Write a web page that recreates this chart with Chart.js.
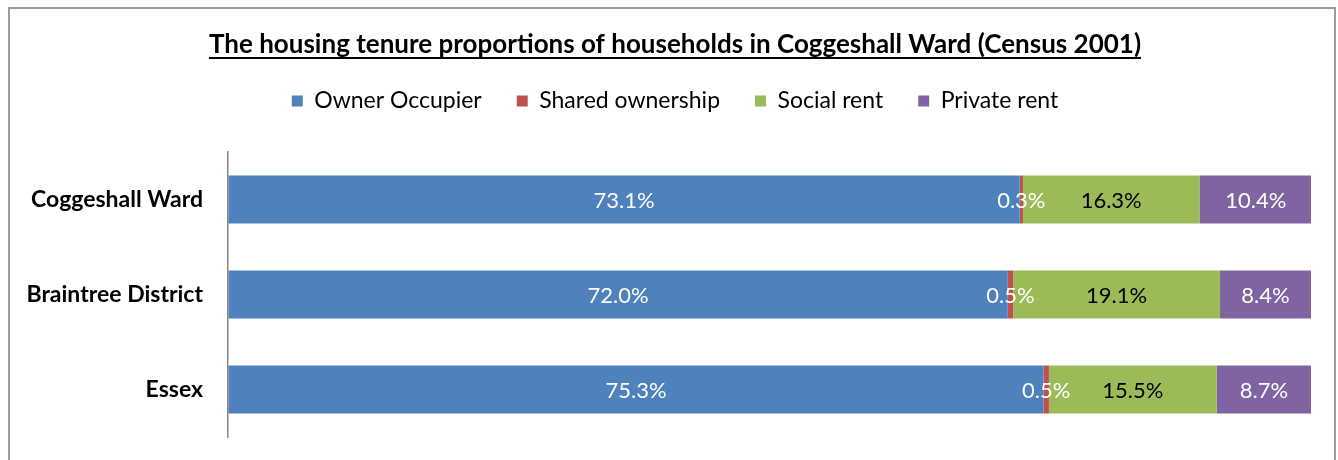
<!DOCTYPE html>
<html>
<head>
<meta charset="utf-8">
<script src="https://cdn.jsdelivr.net/npm/chart.js@4/dist/chart.umd.min.js"></script>
<style>
  html, body { margin: 0; padding: 0; background: #fff; }
  #wrap { position: relative; width: 1338px; height: 460px; overflow: hidden; }
  #frame { position: absolute; left: 8px; top: 7px; width: 1328px; height: 470px;
           border: 2px solid #9c9c9c; box-sizing: border-box; }
  canvas { position: absolute; left: 0; top: 0; }
</style>
</head>
<body>
<div id="wrap">
  <div id="frame"></div>
  <canvas id="tenureChart" width="1338" height="460"></canvas>
</div>
<script>
const areas = ["Coggeshall Ward", "Braintree District", "Essex"];

const ownerOccupier = [73.1, 72.0, 75.3];
const sharedOwnership = [0.3, 0.5, 0.5];
const socialRent = [16.3, 19.1, 15.5];
const privateRent = [10.4, 8.4, 8.7];

const FONT = "Lato, 'Open Sans', sans-serif";
const TITLE_SIZE = 26;

// percent labels in the middle of each segment
const barLabels = {
    id: "barLabels",
    afterDatasetsDraw(chart) {
        const ctx = chart.ctx;
        ctx.save();
        ctx.font = "22px " + FONT;
        ctx.textAlign = "center";
        ctx.textBaseline = "middle";
        chart.data.datasets.forEach((ds, i) => {
            const meta = chart.getDatasetMeta(i);
            if (meta.hidden) return;
            meta.data.forEach((bar, j) => {
                const p = bar.getProps(["x", "y", "base"], true);
                ctx.fillStyle = ds.labelColor;
                ctx.fillText(ds.data[j].toFixed(1) + "%", (p.x + p.base) / 2, p.y + 1);
            });
        });
        ctx.restore();
    }
};

// the title in the reference is underlined
const titleUnderline = {
    id: "titleUnderline",
    afterDraw(chart) {
        const t = chart.titleBlock;
        if (!t) return;
        const ctx = chart.ctx;
        ctx.save();
        ctx.font = "bold " + TITLE_SIZE + "px " + FONT;
        const w = ctx.measureText(chart.options.plugins.title.text).width;
        const cx = (t.left + t.right) / 2;
        const cy = t.top + t.options.padding.top + TITLE_SIZE * 1.2 / 2;
        ctx.strokeStyle = "#000";
        ctx.lineWidth = 2;
        ctx.beginPath();
        ctx.moveTo(cx - w / 2, cy + 13);
        ctx.lineTo(cx + w / 2, cy + 13);
        ctx.stroke();
        ctx.restore();
    }
};

// let the long category names run left of the axis box without being clipped
const wideLabels = {
    id: "wideLabels",
    afterLayout(chart) {
        chart.scales.y.left = 0;
    }
};

const ctx = document.getElementById("tenureChart").getContext("2d");

new Chart(ctx, {
    type: "bar",
    data: {
        labels: areas,
        datasets: [
            { label: "Owner Occupier", data: ownerOccupier, backgroundColor: "#4F81BD", labelColor: "#fff" },
            { label: "Shared ownership", data: sharedOwnership, backgroundColor: "#C0504D", labelColor: "#fff" },
            { label: "Social rent", data: socialRent, backgroundColor: "#9BBB59", labelColor: "#000" },
            { label: "Private rent", data: privateRent, backgroundColor: "#8064A2", labelColor: "#fff" }
        ]
    },
    options: {
        indexAxis: "y",
        responsive: false,
        animation: false,
        devicePixelRatio: 1,
        layout: { autoPadding: false, padding: { left: 39, right: 27, top: 0, bottom: 23 } },
        datasets: {
            bar: { categoryPercentage: 0.505, barPercentage: 1, borderWidth: 0 }
        },
        scales: {
            x: {
                stacked: true,
                min: 0,
                max: 100,
                position: "top",
                ticks: { display: false },
                grid: { drawOnChartArea: false, drawTicks: true, tickLength: 29.5, color: "rgba(0,0,0,0)" },
                border: { display: false }
            },
            y: {
                stacked: true,
                grid: { display: false, drawTicks: false },
                border: { display: true, color: "#868686", width: 1.5 },
                ticks: {
                    color: "#000",
                    padding: 25,
                    font: { family: FONT, size: 23, weight: "bold" }
                },
                afterFit(scale) {
                    scale.width = 189;
                    scale.paddingTop = 0;
                    scale.paddingBottom = 0;
                }
            }
        },
        plugins: {
            title: {
                display: true,
                text: "The housing tenure proportions of households in Coggeshall Ward (Census 2001)",
                color: "#000",
                font: { family: FONT, size: TITLE_SIZE, weight: "bold" },
                padding: { top: 29.4, bottom: -6.1 }
            },
            legend: {
                position: "top",
                labels: {
                    color: "#000",
                    boxWidth: 11,
                    boxHeight: 11,
                    padding: 35,
                    font: { family: FONT, size: 23 }
                }
            },
            tooltip: { enabled: false }
        }
    },
    plugins: [barLabels, titleUnderline, wideLabels]
});
</script>
</body>
</html>
